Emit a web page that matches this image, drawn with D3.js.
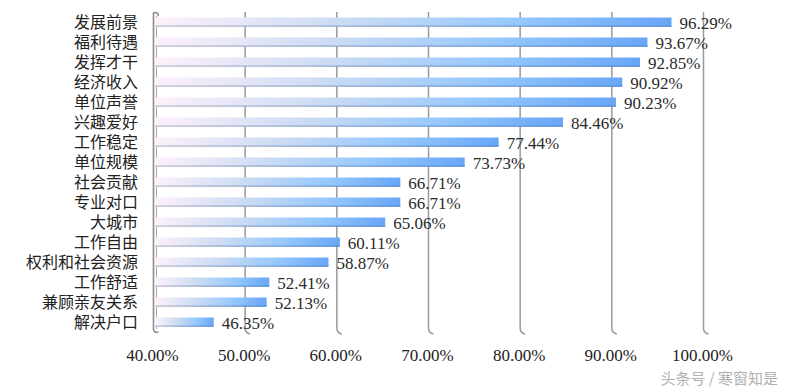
<!DOCTYPE html>
<html>
<head>
<meta charset="utf-8">
<script src="https://cdn.jsdelivr.net/npm/d3@7"></script>
<style>
  body { margin: 0; background: #fff; }
  svg { display: block; }
  .num { font-family: "Liberation Serif", "DejaVu Serif", serif; }
  .cjk { font-family: "Noto Sans CJK SC", sans-serif; }
</style>
</head>
<body>
<script>
// chart data, top bar first
var categories = ['发展前景', '福利待遇', '发挥才干', '经济收入', '单位声誉', '兴趣爱好', '工作稳定', '单位规模',
                  '社会贡献', '专业对口', '大城市', '工作自由', '权利和社会资源', '工作舒适', '兼顾亲友关系', '解决户口'];
var values = [96.29, 93.67, 92.85, 90.92, 90.23, 84.46, 77.44, 73.73,
              66.71, 66.71, 65.06, 60.11, 58.87, 52.41, 52.13, 46.35];
var ticks = [40, 50, 60, 70, 80, 90, 100];

var width = 786, height = 389;

var svg = d3.select('body').append('svg')
  .attr('width', width)
  .attr('height', height);

// x scale for percentages, y band per category
var x = d3.scaleLinear().domain([40, 100]).range([153.5, 703.5]);
var y = d3.scaleBand().domain(categories).range([12, 332]).paddingInner(0.55).paddingOuter(0.275);

var defs = svg.append('defs');
var grad = defs.append('linearGradient').attr('id', 'barGrad');
grad.append('stop').attr('offset', '0%').attr('stop-color', '#fdf0fb');
grad.append('stop').attr('offset', '35%').attr('stop-color', '#cddcf3');
grad.append('stop').attr('offset', '70%').attr('stop-color', '#96c8fc');
grad.append('stop').attr('offset', '100%').attr('stop-color', '#68a6f6');

var edge = defs.append('linearGradient').attr('id', 'edgeGrad');
edge.append('stop').attr('offset', '0%').attr('stop-color', '#b8b8c4');
edge.append('stop').attr('offset', '100%').attr('stop-color', '#4d88da');

// gridlines with a small curl at the bottom
var gTop = 12, gBottom = 333;
svg.append('g').selectAll('path')
  .data(ticks.slice(1))
  .enter().append('path')
  .attr('d', function(d) {
    var gx = x(d);
    return 'M' + gx + ',' + gTop + 'L' + gx + ',' + (gBottom - 5) + 'Q' + gx + ',' + gBottom + ' ' + (gx + 5) + ',' + (gBottom + 1);
  })
  .attr('fill', 'none')
  .attr('stroke', '#9a9a9a')
  .attr('stroke-width', 1.5);

// depth line of the value axis
svg.append('line')
  .attr('x1', x(40) + 3).attr('x2', x(40) + 3)
  .attr('y1', gTop + 4).attr('y2', gBottom - 4)
  .attr('stroke', '#a8a8a8').attr('stroke-width', 1);

// left axis line, curled at both ends
var x0 = x(40);
svg.append('path')
  .attr('d', 'M' + (x0 + 5) + ',' + (gTop + 4) + 'Q' + (x0 + 4) + ',' + (gTop - 1) + ' ' + x0 + ',' + (gTop + 1) +
             'L' + x0 + ',' + (gBottom - 4) + 'Q' + x0 + ',' + gBottom + ' ' + (x0 + 5) + ',' + (gBottom - 1))
  .attr('fill', 'none')
  .attr('stroke', '#8c8c8c')
  .attr('stroke-width', 1.6);

// bars
var bars = svg.append('g').selectAll('g')
  .data(values)
  .enter().append('g');

bars.append('rect')
  .attr('x', x0 + 2)
  .attr('y', function(d, i) { return y(categories[i]); })
  .attr('width', function(d) { return x(d) - x0; })
  .attr('height', y.bandwidth())
  .attr('fill', 'url(#barGrad)');

bars.append('rect')
  .attr('x', x0 + 2)
  .attr('y', function(d, i) { return y(categories[i]) + y.bandwidth() - 1; })
  .attr('width', function(d) { return x(d) - x0; })
  .attr('height', 1.2)
  .attr('fill', 'url(#edgeGrad)');

// value labels
bars.append('text')
  .attr('class', 'num')
  .attr('x', function(d) { return x(d) + 10; })
  .attr('y', function(d, i) { return y(categories[i]) + y.bandwidth() / 2 + 7; })
  .attr('font-size', 17)
  .attr('fill', '#2a2a2a')
  .text(function(d) { return d.toFixed(2) + '%'; });

// category labels
svg.append('g').selectAll('text')
  .data(categories)
  .enter().append('text')
  .attr('class', 'cjk')
  .attr('x', 138)
  .attr('y', function(d) { return y(d) + y.bandwidth() / 2 + 6; })
  .attr('text-anchor', 'end')
  .attr('font-size', 16)
  .attr('fill', '#222')
  .text(function(d) { return d; });

// x axis tick labels
svg.append('g').selectAll('text')
  .data(ticks)
  .enter().append('text')
  .attr('class', 'num')
  .attr('x', function(d) { return x(d) - 1; })
  .attr('y', 361)
  .attr('text-anchor', 'middle')
  .attr('font-size', 17)
  .attr('fill', '#222')
  .text(function(d) { return d.toFixed(2) + '%'; });

// watermark
svg.append('text')
  .attr('class', 'cjk')
  .attr('x', 778)
  .attr('y', 384)
  .attr('text-anchor', 'end')
  .attr('font-size', 15)
  .attr('fill', '#b0b0b0')
  .text('头条号 / 寒窗知是');
</script>
</body>
</html>
